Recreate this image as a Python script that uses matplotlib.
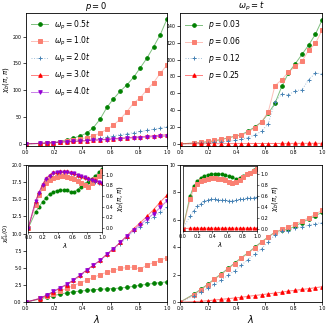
import numpy as np
import matplotlib
matplotlib.use('Agg')
import matplotlib.pyplot as plt

# lambda grid
lam = [0.0, 0.1, 0.147, 0.195, 0.242, 0.289, 0.337, 0.384, 0.432, 0.479, 0.526,
       0.574, 0.621, 0.668, 0.716, 0.763, 0.811, 0.858, 0.905, 0.953, 1.0]

# top left: chi_b(pi,pi), p = 0
w_labels = [r'$\omega_p = 0.5t$', r'$\omega_p = 1.0t$', r'$\omega_p = 2.0t$',
            r'$\omega_p = 3.0t$', r'$\omega_p = 4.0t$']
chi_w05 = [0, 0.5, 1.2, 2.2, 4.3, 7.5, 10.6, 14.9, 20, 30.4, 46, 68, 84, 98, 110, 124, 142, 160, 181, 204, 233]
chi_w10 = [0, 0.5, 1.2, 2.0, 3.5, 5.0, 7.0, 9.0, 11.7, 15, 20, 27, 35, 46, 60, 76, 86, 101, 114, 132, 147]
chi_w20 = [0, 0.8, 1.5, 2.2, 3.0, 4.0, 5.0, 6.3, 7.5, 9.0, 10.6, 12.5, 15, 17, 18.6, 21, 23, 25, 27.4, 29.3, 32.3]
chi_w30 = [0, 0.8, 1.5, 2.2, 3.0, 3.8, 4.5, 5.3, 6.0, 7.0, 7.8, 8.5, 9.5, 10.5, 11.5, 12.3, 13.2, 14, 15, 16, 17]
chi_w40 = [0, 0.8, 1.5, 2.2, 3.0, 3.7, 4.4, 5.0, 5.8, 6.5, 7.2, 8.0, 8.8, 9.5, 10.3, 11, 11.7, 12.5, 13.2, 13.8, 14.5]

# top right: chi_b(pi,pi), omega_p = t
p_labels = [r'$p = 0.03$', r'$p = 0.06$', r'$p = 0.12$', r'$p = 0.25$']
chi_p03 = [0, 1, 1.5, 2.5, 3.5, 5, 7, 9, 11, 15, 20, 26, 36, 48, 68, 84, 95, 106, 117, 130, 147]
chi_p06 = [0, 1, 2, 3, 4, 5.5, 7, 9, 10, 14, 19, 26, 38, 69, 76, 85, 92, 98, 111, 119, 135]
chi_p12 = [0, 0.5, 1, 1.5, 2, 2.5, 3, 4, 5.5, 7.5, 10.5, 15, 24, 50, 59, 58, 63, 64, 76, 84, 83]
chi_p25 = [0, 0.1, 0.1, 0.2, 0.2, 0.2, 0.3, 0.3, 0.3, 0.3, 0.4, 0.4, 0.4, 0.4, 0.5, 0.5, 0.5, 0.6, 0.6, 0.6, 0.6]

# bottom left: chi(0), p = 0
c0_w05 = [0, 0.45, 0.7, 0.95, 1.15, 1.35, 1.5, 1.6, 1.7, 1.8, 1.87, 1.92, 1.97, 2.05, 2.15, 2.3, 2.45, 2.6, 2.72, 2.85, 2.95]
c0_w10 = [0, 0.55, 0.9, 1.25, 1.6, 2.0, 2.4, 2.8, 3.2, 3.6, 4.0, 4.35, 4.65, 4.9, 5.05, 5.1, 4.8, 5.4, 5.75, 6.1, 6.5]
c0_w20 = [0, 0.5, 1.0, 1.5, 2.0, 2.5, 3.1, 3.8, 4.6, 5.3, 6.0, 6.9, 7.7, 8.5, 9.4, 10.3, 11.0, 11.7, 12.4, 13.1, 13.8]
c0_w30 = [0, 0.5, 1.0, 1.5, 2.05, 2.55, 3.2, 3.9, 4.7, 5.4, 6.1, 7.0, 7.8, 8.7, 9.7, 10.7, 11.6, 12.5, 13.5, 14.6, 15.6]
c0_w40 = [0, 0.55, 1.05, 1.55, 2.1, 2.6, 3.25, 3.95, 4.7, 5.4, 6.1, 7.0, 7.8, 8.7, 9.6, 10.5, 11.3, 12.1, 12.9, 13.8, 14.8]

# bottom left inset: normalised chi_b(pi,pi)
in_w05 = [0, 0.3, 0.4, 0.49, 0.57, 0.64, 0.67, 0.7, 0.71, 0.71, 0.71, 0.67, 0.67, 0.72, 0.77, 0.82, 0.86, 0.91, 0.97, 1.04, 1.1]
in_w10 = [0, 0.43, 0.61, 0.74, 0.84, 0.9, 0.94, 0.96, 0.97, 0.97, 0.96, 0.94, 0.91, 0.88, 0.84, 0.81, 0.77, 0.84, 0.92, 0.98, 1.06]
in_w20 = [0, 0.49, 0.65, 0.8, 0.91, 0.97, 1.02, 1.03, 1.04, 1.04, 1.04, 1.02, 1.01, 0.98, 0.96, 0.94, 0.91, 0.89, 0.87, 0.85, 0.83]
in_w30 = [0, 0.51, 0.67, 0.82, 0.93, 0.99, 1.04, 1.05, 1.06, 1.06, 1.06, 1.04, 1.03, 1.0, 0.97, 0.96, 0.93, 0.91, 0.89, 0.87, 0.85]
in_w40 = [0, 0.5, 0.66, 0.81, 0.92, 0.98, 1.03, 1.04, 1.05, 1.05, 1.05, 1.03, 1.02, 0.99, 0.97, 0.95, 0.92, 0.9, 0.88, 0.86, 0.84]

# bottom right: chi(0), omega_p = t
c0_p03 = [0, 0.6, 0.95, 1.3, 1.7, 2.05, 2.45, 2.85, 3.25, 3.6, 4.0, 4.4, 4.75, 5.1, 5.25, 5.3, 5.55, 5.8, 6.05, 6.3, 6.55]
c0_p06 = [0, 0.55, 0.9, 1.25, 1.65, 2.0, 2.4, 2.8, 3.2, 3.55, 3.95, 4.35, 4.75, 5.1, 5.3, 5.5, 5.7, 5.9, 6.15, 6.4, 6.7]
c0_p12 = [0, 0.45, 0.75, 1.0, 1.3, 1.6, 1.95, 2.3, 2.7, 3.1, 3.5, 3.9, 4.4, 4.9, 5.15, 5.2, 5.4, 5.5, 5.6, 5.72, 5.8]
c0_p25 = [0, 0.03, 0.06, 0.1, 0.15, 0.2, 0.25, 0.3, 0.35, 0.42, 0.48, 0.54, 0.6, 0.66, 0.72, 0.8, 0.86, 0.92, 0.98, 1.05, 1.12]

# bottom right inset
in_p03 = [0, 0.6, 0.78, 0.87, 0.93, 0.97, 0.99, 1.0, 1.01, 1.01, 1.0, 0.98, 0.96, 0.95, 0.91, 0.93, 0.97, 1.0, 1.03, 1.08, 1.12]
in_p06 = [0, 0.54, 0.72, 0.82, 0.87, 0.9, 0.92, 0.93, 0.93, 0.92, 0.91, 0.89, 0.86, 0.83, 0.86, 0.9, 0.95, 1.0, 1.03, 1.06, 1.1]
in_p12 = [0, 0.23, 0.33, 0.41, 0.46, 0.5, 0.52, 0.54, 0.54, 0.53, 0.53, 0.52, 0.51, 0.51, 0.52, 0.54, 0.55, 0.56, 0.56, 0.57, 0.58]
in_p25 = [0, 0.01, 0.01, 0.01, 0.01, 0.01, 0.01, 0.01, 0.01, 0.01, 0.01, 0.01, 0.01, 0.01, 0.01, 0.01, 0.01, 0.01, 0.01, 0.01, 0.01]

colors = ['green', 'salmon', 'steelblue', 'red', 'darkviolet']
markers = ['o', 's', '+', '^', 'v']
styles = ['-', '-', ':', '-', '-']


def draw(ax, ys, labels=None, ms=2.6):
    for i, y in enumerate(ys):
        c = matplotlib.colors.to_rgba(colors[i])
        ax.plot(lam, y, linestyle=styles[i], color=(c[0], c[1], c[2], 0.5), lw=0.7,
                marker=markers[i], ms=ms, mfc=colors[i], mec=colors[i], mew=0.7,
                label=None if labels is None else labels[i])


fig = plt.figure(figsize=(3.28, 3.28), dpi=100)
ax_tl = fig.add_axes([0.079, 0.555, 0.430, 0.405])
ax_tr = fig.add_axes([0.549, 0.555, 0.433, 0.405])
ax_bl = fig.add_axes([0.079, 0.079, 0.430, 0.418])
ax_br = fig.add_axes([0.549, 0.079, 0.433, 0.418])

draw(ax_tl, [chi_w05, chi_w10, chi_w20, chi_w30, chi_w40], w_labels)
draw(ax_tr, [chi_p03, chi_p06, chi_p12, chi_p25], p_labels)
draw(ax_bl, [c0_w05, c0_w10, c0_w20, c0_w30, c0_w40])
draw(ax_br, [c0_p03, c0_p06, c0_p12, c0_p25])

ax_tl.set_ylim(-4, 244)
ax_tr.set_ylim(-2.5, 155)
ax_bl.set_ylim(0, 20)
ax_br.set_ylim(0, 10)
ax_tl.set_yticks([0, 50, 100, 150, 200])
ax_tr.set_yticks([0, 20, 40, 60, 80, 100, 120, 140])
ax_bl.set_yticks([0, 2.5, 5, 7.5, 10, 12.5, 15, 17.5, 20])
ax_br.set_yticks([0, 2, 4, 6, 8, 10])

for ax in [ax_tl, ax_tr, ax_bl, ax_br]:
    ax.set_xlim(0, 1)
    ax.set_xticks([0, 0.2, 0.4, 0.6, 0.8, 1.0])
    ax.tick_params(labelsize=3.4, length=2, width=0.5, pad=1.0)
    for s in ax.spines.values():
        s.set_linewidth(0.6)

ax_tl.set_title(r'$p = 0$', fontsize=6, pad=2)
ax_tr.set_title(r'$\omega_p = t$', fontsize=6, pad=2)
ax_tl.set_ylabel(r'$\chi_b(\pi,\pi)$', fontsize=5)
ax_bl.set_ylabel(r'$\chi^{R}_{bb}(0)$', fontsize=4.4)
ax_tl.yaxis.set_label_coords(-0.105, 0.5)
ax_bl.yaxis.set_label_coords(-0.108, 0.5)
ax_bl.set_xlabel(r'$\lambda$', fontsize=7, labelpad=1)
ax_br.set_xlabel(r'$\lambda$', fontsize=7, labelpad=1)

ax_tl.legend(loc='upper left', fontsize=5.5, frameon=False, handlelength=2.2,
             borderaxespad=0.3, labelspacing=0.5)
ax_tr.legend(loc='upper left', fontsize=5.5, frameon=False, handlelength=2.2,
             borderaxespad=0.3, labelspacing=0.5)

# insets
in_bl = fig.add_axes([0.086, 0.293, 0.225, 0.201])
in_br = fig.add_axes([0.557, 0.296, 0.227, 0.198])
draw(in_bl, [in_w05, in_w10, in_w20, in_w30, in_w40], ms=2.2)
draw(in_br, [in_p03, in_p06, in_p12, in_p25], ms=2.2)
in_bl.set_ylim(-0.07, 1.16)
in_br.set_ylim(-0.04, 1.15)
for ax in [in_bl, in_br]:
    ax.set_xlim(0, 1)
    ax.set_xticks([0, 0.2, 0.4, 0.6, 0.8, 1.0])
    ax.set_yticks([0, 0.2, 0.4, 0.6, 0.8, 1.0])
    ax.yaxis.tick_right()
    ax.yaxis.set_label_position('right')
    ax.tick_params(labelsize=3.5, length=1.5, width=0.4, pad=1)
    ax.set_xlabel(r'$\lambda$', fontsize=5, labelpad=0.5)
    ax.set_ylabel(r'$\chi_b(\pi,\pi)$', fontsize=5, labelpad=1)
    for s in ax.spines.values():
        s.set_linewidth(0.5)

fig.savefig('out.png', dpi=100)
